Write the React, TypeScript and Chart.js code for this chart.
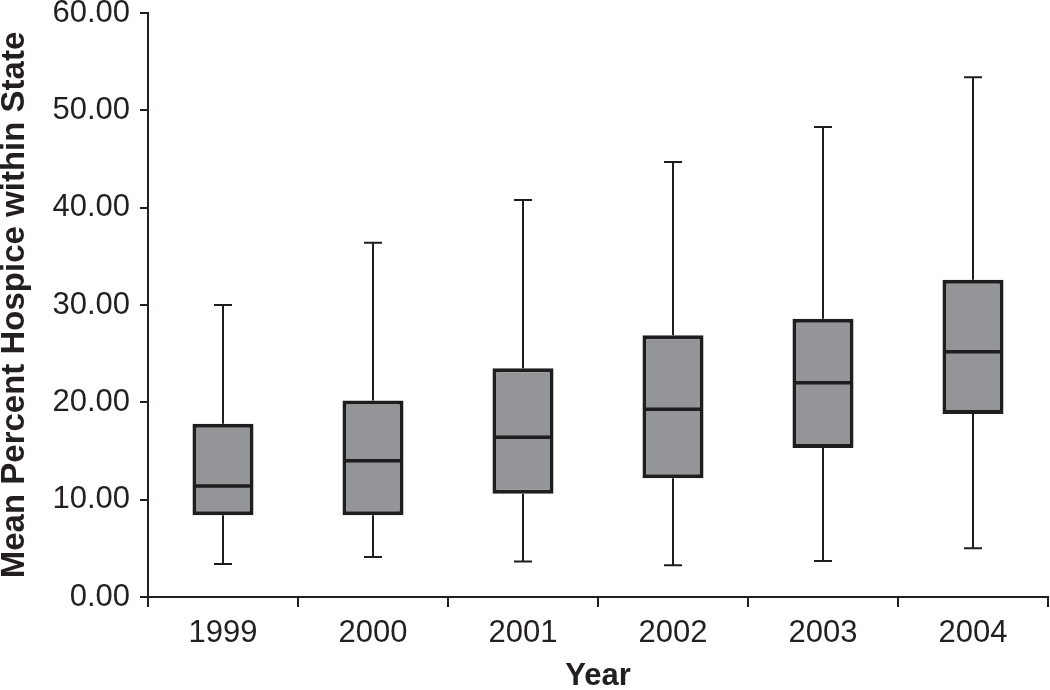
import React, { useEffect, useRef } from "react";
import { Chart, registerables } from "chart.js";

Chart.register(...registerables);

const categories = ["1999", "2000", "2001", "2002", "2003", "2004"];
const whiskerMin = [3.4, 4.1, 3.65, 3.25, 3.7, 5.0];
const quartile1 = [8.4, 8.4, 10.6, 12.2, 15.3, 18.8];
const medians = [11.4, 14.0, 16.4, 19.3, 22.0, 25.2];
const quartile3 = [17.8, 20.2, 23.5, 26.9, 28.6, 32.6];
const whiskerMax = [30.0, 36.4, 40.8, 44.7, 48.3, 53.4];
const yTicks = [0, 10, 20, 30, 40, 50, 60];

const INK = "#1e1e1e";
const TEXT = "#231f20";
const BOX_FILL = "#939598";
const FONT = "'Liberation Sans', Arial, Helvetica, sans-serif";

const boxPlugin = {
  id: "boxWhiskers",
  afterDatasetsDraw(chart: any) {
    const ctx = chart.ctx;
    const xs = chart.scales.x;
    const ys = chart.scales.y;
    const meta = chart.getDatasetMeta(0);
    ctx.save();
    ctx.strokeStyle = INK;
    ctx.lineCap = "butt";
    categories.forEach((_, i) => {
      const x = xs.getPixelForValue(i);
      const el = meta.data[i];
      const half = el ? el.width / 2 : 30;
      const yMin = ys.getPixelForValue(whiskerMin[i]);
      const yMax = ys.getPixelForValue(whiskerMax[i]);
      const yQ1 = ys.getPixelForValue(quartile1[i]);
      const yQ3 = ys.getPixelForValue(quartile3[i]);
      const yMed = ys.getPixelForValue(medians[i]);
      ctx.lineWidth = 2;
      ctx.beginPath();
      ctx.moveTo(x, yQ3);
      ctx.lineTo(x, yMax);
      ctx.moveTo(x, yQ1);
      ctx.lineTo(x, yMin);
      ctx.moveTo(x - 9, yMax);
      ctx.lineTo(x + 9, yMax);
      ctx.moveTo(x - 9, yMin);
      ctx.lineTo(x + 9, yMin);
      ctx.stroke();
      ctx.lineWidth = 3.5;
      ctx.beginPath();
      ctx.moveTo(x - half + 2, yMed);
      ctx.lineTo(x + half - 2, yMed);
      ctx.stroke();
    });
    ctx.restore();
  },
};

export default function App() {
  const canvasRef = useRef<HTMLCanvasElement | null>(null);

  useEffect(() => {
    if (!canvasRef.current) return;
    const chart = new Chart(canvasRef.current, {
      type: "bar",
      data: {
        labels: categories,
        datasets: [
          {
            label: "Mean Percent Hospice within State",
            data: categories.map((_, i) => [quartile1[i], quartile3[i]]) as any,
            backgroundColor: BOX_FILL,
            borderColor: INK,
            borderWidth: 4,
            borderSkipped: false,
            barPercentage: 0.407,
            categoryPercentage: 1,
          },
        ],
      },
      options: {
        animation: false,
        responsive: true,
        maintainAspectRatio: false,
        layout: { padding: { top: 13, right: 2, bottom: 0, left: 0 } },
        plugins: {
          legend: { display: false },
          tooltip: { enabled: false },
        },
        scales: {
          x: {
            type: "category",
            offset: true,
            grid: {
              display: true,
              offset: true,
              drawOnChartArea: false,
              drawTicks: true,
              tickLength: 10,
              color: TEXT,
              lineWidth: 2,
            },
            border: { display: true, color: TEXT, width: 2 },
            ticks: {
              color: TEXT,
              padding: 8,
              font: { family: FONT, size: 31 },
            },
            title: {
              display: true,
              text: "Year",
              color: TEXT,
              padding: 0,
              font: { family: FONT, size: 31, weight: "bold", lineHeight: 0.9 },
            },
            afterFit(scale: any) {
              scale.height = 93;
              scale.paddingLeft = 0;
              scale.paddingRight = 0;
            },
          },
          y: {
            type: "linear",
            min: 0,
            max: 60,
            afterBuildTicks(scale: any) {
              scale.ticks = yTicks.map((v) => ({ value: v }));
            },
            grid: {
              display: true,
              drawOnChartArea: false,
              drawTicks: true,
              tickLength: 8,
              color: TEXT,
              lineWidth: 2,
            },
            border: { display: true, color: TEXT, width: 2 },
            ticks: {
              color: TEXT,
              padding: 10,
              font: { family: FONT, size: 31 },
              callback: (v: any) => Number(v).toFixed(2),
            },
            title: {
              display: true,
              text: "Mean Percent Hospice within State",
              color: TEXT,
              padding: 0,
              font: { family: FONT, size: 33, weight: "bold", lineHeight: 0.9 },
            },
            afterFit(scale: any) {
              scale.width = 148;
              scale.paddingTop = 0;
              scale.paddingBottom = 0;
            },
          },
        },
      },
      plugins: [boxPlugin],
    });
    return () => chart.destroy();
  }, []);

  return (
    <div style={{ position: "absolute", left: 0, top: 0, width: 1050, height: 690, background: "#fff" }}>
      <canvas ref={canvasRef} />
    </div>
  );
}
